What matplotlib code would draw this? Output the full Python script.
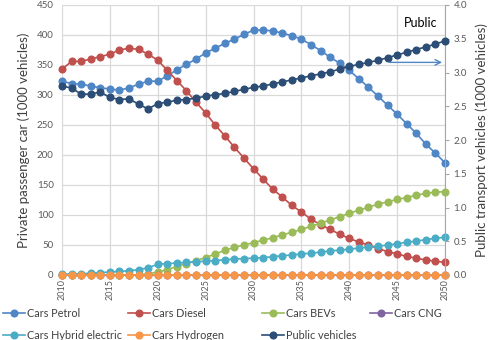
import matplotlib
matplotlib.use("Agg")
import matplotlib.pyplot as plt

plt.rcParams['font.family'] = ['Lato', 'DejaVu Sans']

years = list(range(2010, 2051))

cars_petrol = [323, 319, 318, 315, 312, 310, 308, 312, 318, 323, 323, 332, 342, 351, 360, 370, 378, 386, 393, 401,
               408, 408, 407, 403, 399, 393, 384, 374, 363, 353, 341, 327, 313, 298, 283, 268, 252, 236, 218, 203, 187]
cars_diesel = [343, 356, 356, 360, 364, 368, 375, 378, 376, 368, 358, 341, 324, 307, 288, 270, 250, 232, 213, 195,
               177, 160, 143, 130, 116, 105, 93, 84, 76, 68, 61, 55, 50, 44, 39, 35, 31, 28, 25, 23, 21]
cars_bev = [0, 0, 0, 0, 0, 0, 0, 0, 0, 2, 5, 9, 14, 19, 24, 29, 35, 41, 46, 50,
            54, 58, 62, 67, 71, 76, 81, 86, 92, 97, 103, 108, 113, 118, 122, 126, 129, 133, 136, 138, 139]
cars_cng = [0] * 41
cars_hybrid = [1, 2, 2, 3, 4, 5, 6, 7, 9, 12, 18, 19, 20, 21, 22, 23, 24, 25.5, 26.5, 27.5,
               28, 29, 30.5, 32, 33.5, 35, 36.5, 38, 40, 41.5, 43, 45, 46.5, 48, 50, 52, 54.5, 56.5, 59, 61, 63]
cars_hydrogen = [0] * 41
public_vehicles = [2.80, 2.77, 2.68, 2.68, 2.71, 2.63, 2.60, 2.61, 2.53, 2.46, 2.54, 2.56, 2.59, 2.60, 2.62, 2.65,
                   2.67, 2.69, 2.72, 2.75, 2.78, 2.80, 2.83, 2.86, 2.89, 2.92, 2.95, 2.98, 3.01, 3.05, 3.09, 3.12,
                   3.15, 3.18, 3.22, 3.26, 3.30, 3.34, 3.38, 3.42, 3.47]

left_series = [
    ("Cars Petrol", cars_petrol, "#4F86C6"),
    ("Cars Diesel", cars_diesel, "#C0504D"),
    ("Cars BEVs", cars_bev, "#9BBB59"),
    ("Cars CNG", cars_cng, "#8064A2"),
    ("Cars Hybrid electric", cars_hybrid, "#4BACC6"),
    ("Cars Hydrogen", cars_hydrogen, "#F79646"),
]
public_color = "#2C4D75"

fig = plt.figure(figsize=(4.95, 3.4), dpi=100)
ax = fig.add_axes([62/495, 1 - 275/340, (445-62)/495, 270/340])
ax2 = ax.twinx()

handles = {}
for name, vals, col in left_series:
    h, = ax.plot(years, vals, color=col, lw=1.2, marker='o', ms=4.8, clip_on=False, zorder=3)
    handles[name] = h
hp, = ax2.plot(years, public_vehicles, color=public_color, lw=1.2, marker='o', ms=4.8, clip_on=False, zorder=3)
handles["Public vehicles"] = hp

ax.set_xlim(2010, 2050)
ax.set_ylim(0, 450)
ax2.set_ylim(0, 4.0)
ax.set_xticks(range(2010, 2051, 5))
ax.set_xticklabels([str(y) for y in range(2010, 2051, 5)], rotation=90, fontsize=6.5, color="#595959")
ax.set_yticks(range(0, 451, 50))
ax.tick_params(axis='y', labelsize=7, colors="#595959", length=0, pad=6)
ax.tick_params(axis='x', length=0, pad=3)
ax2.set_yticks([0, 0.5, 1.0, 1.5, 2.0, 2.5, 3.0, 3.5, 4.0])
ax2.set_yticklabels([f"{v:.1f}" for v in [0, 0.5, 1.0, 1.5, 2.0, 2.5, 3.0, 3.5, 4.0]])
ax2.tick_params(axis='y', labelsize=7, colors="#595959", length=3, width=0.8, color="#a6a6a6", pad=3)

ax.grid(True, color="#d9d9d9", lw=0.9)
ax.set_axisbelow(True)
for s in ['top', 'left']:
    ax.spines[s].set_visible(False)
    ax2.spines[s].set_visible(False)
ax.spines['right'].set_visible(False)
ax2.spines['right'].set_color("#a6a6a6")
ax.spines['bottom'].set_color("#bfbfbf")
ax2.spines['bottom'].set_visible(False)

ax.set_ylabel("Private passenger car (1000 vehicles)", fontsize=9.5, color="#404040", labelpad=5)
ax2.set_ylabel("Public transport vehicles (1000 vehicles)", fontsize=9.5, color="#404040", labelpad=6)

ax2.text(2049.2, 3.74, "Public", fontsize=9, color="black", ha='right', va='center')
ax2.annotate("", xy=(2049.7, 3.15), xytext=(2044.2, 3.15),
             arrowprops=dict(arrowstyle='->', color="#4F86C6", lw=1.0, shrinkA=0, shrinkB=0))

columns = [
    (["Cars Petrol", "Cars Hybrid electric"], 0.0),
    (["Cars Diesel", "Cars Hydrogen"], 125/495),
    (["Cars BEVs", "Public vehicles"], 259/495),
    (["Cars CNG"], 367/495),
]
for names, x0 in columns:
    fig.legend([handles[n] for n in names], names, loc='upper left',
               bbox_to_anchor=(x0, 1 - 305/340), frameon=False, fontsize=7.8,
               handlelength=2.0, handletextpad=0.15, labelspacing=0.95, borderaxespad=0,
               borderpad=0.3, labelcolor="#404040")

fig.savefig("out.png", dpi=100)
